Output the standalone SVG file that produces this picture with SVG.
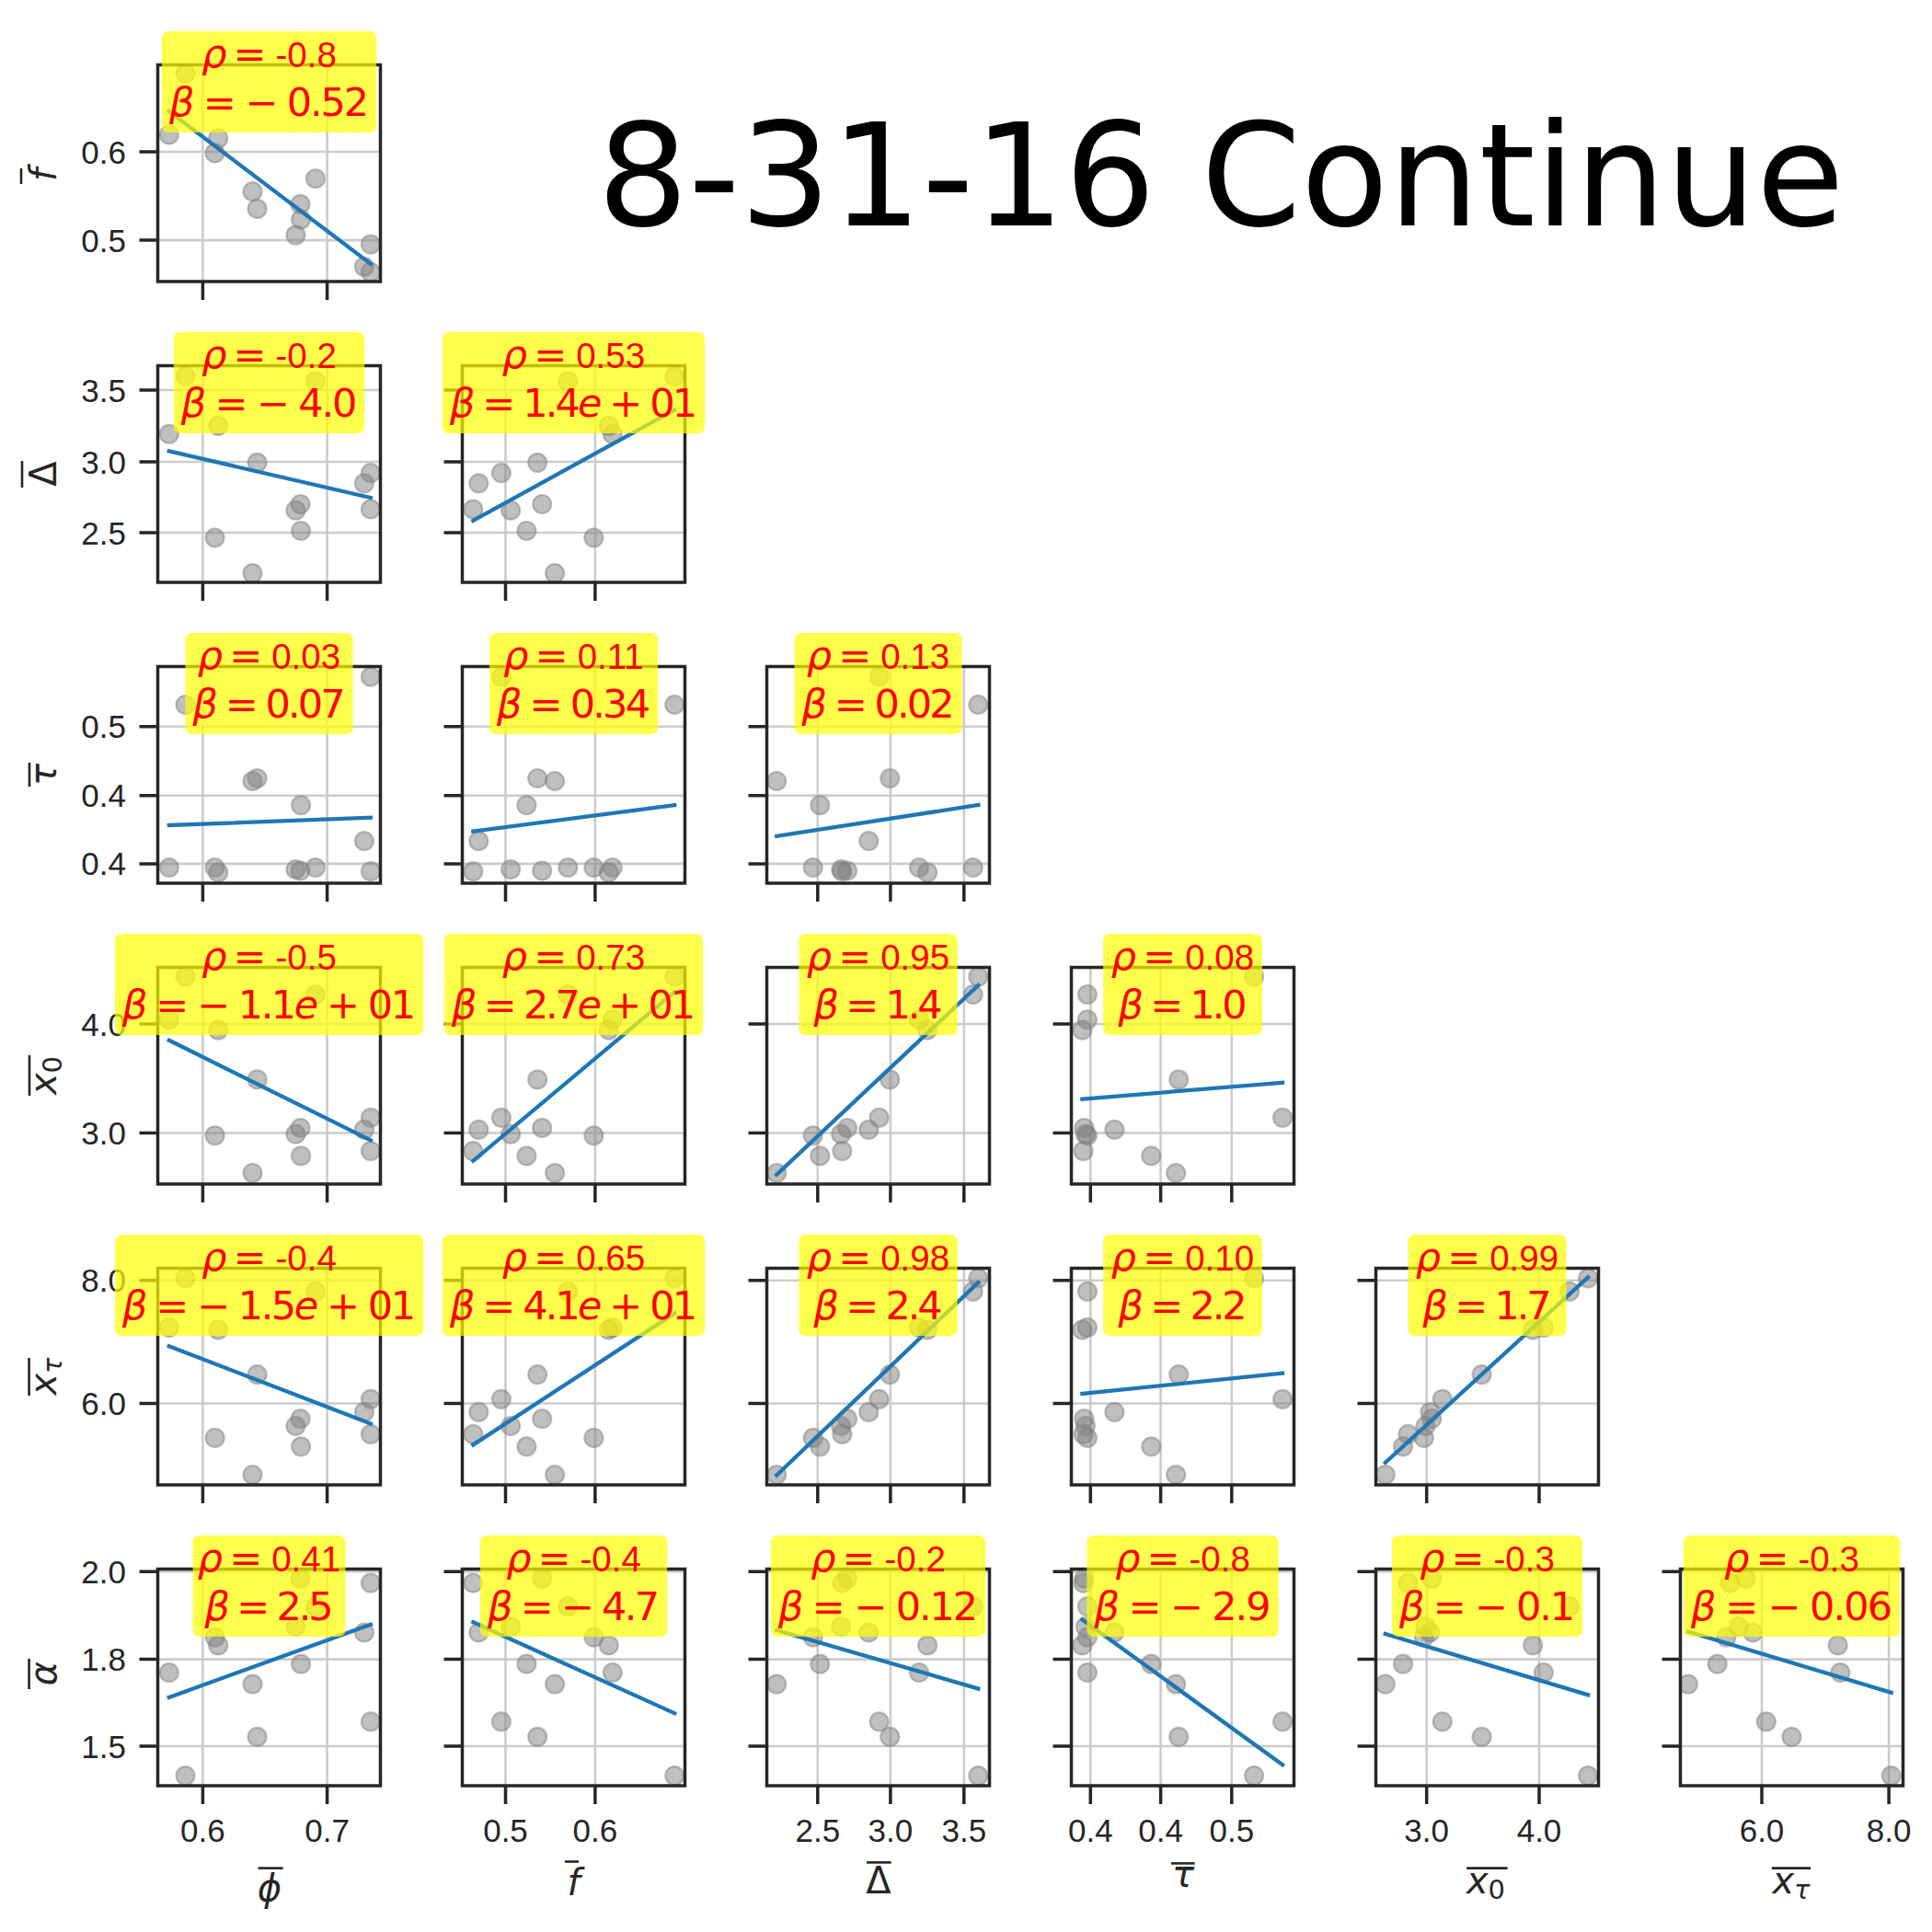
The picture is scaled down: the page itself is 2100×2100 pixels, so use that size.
<svg xmlns="http://www.w3.org/2000/svg" width="2100" height="2100" viewBox="0 0 2100 2100">
<style>
.grid{stroke:#cccccc;stroke-width:2.6;fill:none}
.pt{fill:#808080;fill-opacity:.5;stroke:#808080;stroke-opacity:.5;stroke-width:2.2}
.fit{stroke:#1f77b4;stroke-width:4.3;stroke-linecap:square}
.spine{fill:none;stroke:#262626;stroke-width:3.5}
.tick{stroke:#262626;stroke-width:3.5;fill:none}
.box{fill:#ffff00;fill-opacity:.7}
.ann{font-family:"DejaVu Sans",sans-serif;font-size:43px;fill:#ff0000;text-anchor:middle}
.num{font-family:"Liberation Sans",Arial,sans-serif;font-size:38.5px}
.it{font-style:italic}
.tl{font-family:"Liberation Sans",Arial,sans-serif;font-size:35px;fill:#262626}
.tly{text-anchor:end}
.tlx{text-anchor:middle}
.lab{font-family:"DejaVu Sans",sans-serif;font-size:40px;fill:#262626;text-anchor:middle}
.bar{stroke:#262626;stroke-width:2.6}
.title{font-family:"DejaVu Sans",sans-serif;font-size:155.5px;fill:#000000;text-anchor:middle}
</style>
<rect x="0" y="0" width="2100" height="2100" fill="#ffffff"/>
<text class="title" x="1327" y="245">8-31-16 Continue</text>

<!-- Row 0 -->
<g id="p00">
<svg x="171.5" y="70.5" width="242" height="235.5" viewBox="171.5 70.5 242 235.5">
<path class="grid" d="M220.4 70.5V306M355.6 70.5V306M171.5 165H413.5M171.5 261.1H413.5"/>
<circle class="pt" r="10" cx="183.8" cy="146.4"/><circle class="pt" r="10" cx="201.5" cy="79.9"/><circle class="pt" r="10" cx="233.6" cy="166.4"/><circle class="pt" r="10" cx="237.2" cy="150.4"/><circle class="pt" r="10" cx="274.5" cy="208.2"/><circle class="pt" r="10" cx="279.6" cy="226.9"/><circle class="pt" r="10" cx="321.4" cy="255.6"/><circle class="pt" r="10" cx="326.5" cy="221.9"/><circle class="pt" r="10" cx="327.1" cy="238.5"/><circle class="pt" r="10" cx="342.9" cy="194.2"/><circle class="pt" r="10" cx="395.9" cy="289.9"/><circle class="pt" r="10" cx="402.9" cy="295.8"/><circle class="pt" r="10" cx="402.9" cy="265.6"/>
<line class="fit" x1="183.8" y1="121" x2="402.9" y2="286.8"/>
</svg>
<rect class="spine" x="171.5" y="70.5" width="242" height="235.5"/>
<path class="tick" d="M151.5 165H171.5M151.5 261.1H171.5M220.4 306V326M355.6 306V326"/>
<text class="tl tly" x="137" y="177.5">0.6</text><text class="tl tly" x="137" y="273.6">0.5</text>
<rect class="box" x="175.9" y="34" width="233.2" height="110" rx="7"/>
<text class="ann" x="292.5" y="73"><tspan class="it">ρ</tspan><tspan dx="7">=</tspan><tspan class="num" dx="10">-0.8</tspan></text>
<text class="ann" x="292.5" y="125.5" textLength="217" lengthAdjust="spacing"><tspan class="it">β</tspan> = − 0.52</text>
</g>

<!-- Row 1 -->
<g id="p10">
<svg x="171.5" y="397.5" width="242" height="235.5" viewBox="171.5 397.5 242 235.5">
<path class="grid" d="M220.4 397.5V633M355.6 397.5V633M171.5 424H413.5M171.5 502H413.5M171.5 579H413.5"/>
<circle class="pt" r="10" cx="183.8" cy="471.8"/><circle class="pt" r="10" cx="201.5" cy="409"/><circle class="pt" r="10" cx="233.6" cy="584.5"/><circle class="pt" r="10" cx="237.2" cy="462.9"/><circle class="pt" r="10" cx="274.5" cy="623.1"/><circle class="pt" r="10" cx="279.6" cy="502.8"/><circle class="pt" r="10" cx="321.4" cy="554.7"/><circle class="pt" r="10" cx="326.5" cy="548"/><circle class="pt" r="10" cx="327.1" cy="577"/><circle class="pt" r="10" cx="342.9" cy="414.4"/><circle class="pt" r="10" cx="395.9" cy="525.3"/><circle class="pt" r="10" cx="402.9" cy="553.5"/><circle class="pt" r="10" cx="402.9" cy="514.2"/>
<line class="fit" x1="183.8" y1="490.4" x2="402.9" y2="541"/>
</svg>
<rect class="spine" x="171.5" y="397.5" width="242" height="235.5"/>
<path class="tick" d="M151.5 424H171.5M151.5 502H171.5M151.5 579H171.5M220.4 633V653M355.6 633V653"/>
<text class="tl tly" x="137" y="436.5">3.5</text><text class="tl tly" x="137" y="514.5">3.0</text><text class="tl tly" x="137" y="591.5">2.5</text>
<rect class="box" x="188.7" y="361" width="207.6" height="110" rx="7"/>
<text class="ann" x="292.5" y="400"><tspan class="it">ρ</tspan><tspan dx="7">=</tspan><tspan class="num" dx="10">-0.2</tspan></text>
<text class="ann" x="292.5" y="452.5" textLength="191.6" lengthAdjust="spacing"><tspan class="it">β</tspan> = − 4.0</text>
</g>

<g id="p11">
<svg x="502.5" y="397.5" width="242" height="235.5" viewBox="502.5 397.5 242 235.5">
<path class="grid" d="M549.5 397.5V633M646.9 397.5V633M502.5 424H744.5M502.5 502H744.5M502.5 579H744.5"/>
<circle class="pt" r="10" cx="665.8" cy="471.8"/><circle class="pt" r="10" cx="733.2" cy="409"/><circle class="pt" r="10" cx="645.4" cy="584.5"/><circle class="pt" r="10" cx="661.7" cy="462.9"/><circle class="pt" r="10" cx="603.1" cy="623.1"/><circle class="pt" r="10" cx="584.2" cy="502.8"/><circle class="pt" r="10" cx="555.1" cy="554.7"/><circle class="pt" r="10" cx="589.2" cy="548"/><circle class="pt" r="10" cx="572.4" cy="577"/><circle class="pt" r="10" cx="617.3" cy="414.4"/><circle class="pt" r="10" cx="520.3" cy="525.3"/><circle class="pt" r="10" cx="514.3" cy="553.5"/><circle class="pt" r="10" cx="544.9" cy="514.2"/>
<line class="fit" x1="514.3" y1="565.8" x2="733.2" y2="445.6"/>
</svg>
<rect class="spine" x="502.5" y="397.5" width="242" height="235.5"/>
<path class="tick" d="M482.5 424H502.5M482.5 502H502.5M482.5 579H502.5M549.5 633V653M646.9 633V653"/>
<rect class="box" x="480.9" y="361" width="285.2" height="110" rx="7"/>
<text class="ann" x="623.5" y="400"><tspan class="it">ρ</tspan><tspan dx="7">=</tspan><tspan class="num" dx="10">0.53</tspan></text>
<text class="ann" x="623.5" y="452.5" textLength="269" lengthAdjust="spacing"><tspan class="it">β</tspan> = 1.4<tspan class="it">e</tspan> + 01</text>
</g>

<!-- Row 2 -->
<g id="p20">
<svg x="171.5" y="724.5" width="242" height="235.5" viewBox="171.5 724.5 242 235.5">
<path class="grid" d="M220.4 724.5V960M355.6 724.5V960M171.5 789.7H413.5M171.5 864.7H413.5M171.5 938.9H413.5"/>
<circle class="pt" r="10" cx="183.8" cy="943"/><circle class="pt" r="10" cx="201.5" cy="766"/><circle class="pt" r="10" cx="233.6" cy="943"/><circle class="pt" r="10" cx="237.2" cy="948.4"/><circle class="pt" r="10" cx="274.5" cy="849"/><circle class="pt" r="10" cx="279.6" cy="846"/><circle class="pt" r="10" cx="321.4" cy="945"/><circle class="pt" r="10" cx="326.5" cy="946.5"/><circle class="pt" r="10" cx="327.1" cy="875.2"/><circle class="pt" r="10" cx="342.9" cy="943"/><circle class="pt" r="10" cx="395.9" cy="914.2"/><circle class="pt" r="10" cx="402.9" cy="947.2"/><circle class="pt" r="10" cx="402.9" cy="735.7"/>
<line class="fit" x1="183.8" y1="897" x2="402.9" y2="888.8"/>
</svg>
<rect class="spine" x="171.5" y="724.5" width="242" height="235.5"/>
<path class="tick" d="M151.5 789.7H171.5M151.5 864.7H171.5M151.5 938.9H171.5M220.4 960V980M355.6 960V980"/>
<text class="tl tly" x="137" y="802.2">0.5</text><text class="tl tly" x="137" y="877.2">0.4</text><text class="tl tly" x="137" y="951.4">0.4</text>
<rect class="box" x="201.4" y="688" width="182.2" height="110" rx="7"/>
<text class="ann" x="292.5" y="727"><tspan class="it">ρ</tspan><tspan dx="7">=</tspan><tspan class="num" dx="10">0.03</tspan></text>
<text class="ann" x="292.5" y="779.5" textLength="166" lengthAdjust="spacing"><tspan class="it">β</tspan> = 0.07</text>
</g>

<g id="p21">
<svg x="502.5" y="724.5" width="242" height="235.5" viewBox="502.5 724.5 242 235.5">
<path class="grid" d="M549.5 724.5V960M646.9 724.5V960M502.5 789.7H744.5M502.5 864.7H744.5M502.5 938.9H744.5"/>
<circle class="pt" r="10" cx="665.8" cy="943"/><circle class="pt" r="10" cx="733.2" cy="766"/><circle class="pt" r="10" cx="645.4" cy="943"/><circle class="pt" r="10" cx="661.7" cy="948.4"/><circle class="pt" r="10" cx="603.1" cy="849"/><circle class="pt" r="10" cx="584.2" cy="846"/><circle class="pt" r="10" cx="555.1" cy="945"/><circle class="pt" r="10" cx="589.2" cy="946.5"/><circle class="pt" r="10" cx="572.4" cy="875.2"/><circle class="pt" r="10" cx="617.3" cy="943"/><circle class="pt" r="10" cx="520.3" cy="914.2"/><circle class="pt" r="10" cx="514.3" cy="947.2"/><circle class="pt" r="10" cx="544.9" cy="735.7"/>
<line class="fit" x1="514.3" y1="903.7" x2="733.2" y2="875.1"/>
</svg>
<rect class="spine" x="502.5" y="724.5" width="242" height="235.5"/>
<path class="tick" d="M482.5 789.7H502.5M482.5 864.7H502.5M482.5 938.9H502.5M549.5 960V980M646.9 960V980"/>
<rect class="box" x="531.9" y="688" width="183.2" height="110" rx="7"/>
<text class="ann" x="623.5" y="727"><tspan class="it">ρ</tspan><tspan dx="7">=</tspan><tspan class="num" dx="10">0.11</tspan></text>
<text class="ann" x="623.5" y="779.5" textLength="167" lengthAdjust="spacing"><tspan class="it">β</tspan> = 0.34</text>
</g>

<g id="p22">
<svg x="833.5" y="724.5" width="242" height="235.5" viewBox="833.5 724.5 242 235.5">
<path class="grid" d="M888.8 724.5V960M967.9 724.5V960M1047.8 724.5V960M833.5 789.7H1075.5M833.5 864.7H1075.5M833.5 938.9H1075.5"/>
<circle class="pt" r="10" cx="999" cy="943"/><circle class="pt" r="10" cx="1063.3" cy="766"/><circle class="pt" r="10" cx="883.7" cy="943"/><circle class="pt" r="10" cx="1008.1" cy="948.4"/><circle class="pt" r="10" cx="844.2" cy="849"/><circle class="pt" r="10" cx="967.3" cy="846"/><circle class="pt" r="10" cx="914.2" cy="945"/><circle class="pt" r="10" cx="921" cy="946.5"/><circle class="pt" r="10" cx="891.3" cy="875.2"/><circle class="pt" r="10" cx="1057.7" cy="943"/><circle class="pt" r="10" cx="944.3" cy="914.2"/><circle class="pt" r="10" cx="915.4" cy="947.2"/><circle class="pt" r="10" cx="955.6" cy="735.7"/>
<line class="fit" x1="844.2" y1="908.9" x2="1063.3" y2="875"/>
</svg>
<rect class="spine" x="833.5" y="724.5" width="242" height="235.5"/>
<path class="tick" d="M813.5 789.7H833.5M813.5 864.7H833.5M813.5 938.9H833.5M888.8 960V980M967.9 960V980M1047.8 960V980"/>
<rect class="box" x="863.5" y="688" width="182" height="110" rx="7"/>
<text class="ann" x="954.5" y="727"><tspan class="it">ρ</tspan><tspan dx="7">=</tspan><tspan class="num" dx="10">0.13</tspan></text>
<text class="ann" x="954.5" y="779.5" textLength="166" lengthAdjust="spacing"><tspan class="it">β</tspan> = 0.02</text>
</g>

<!-- Row 3 -->
<g id="p30">
<svg x="171.5" y="1051.5" width="242" height="235.5" viewBox="171.5 1051.5 242 235.5">
<path class="grid" d="M220.4 1051.5V1287M355.6 1051.5V1287M171.5 1113H413.5M171.5 1231.5H413.5"/>
<circle class="pt" r="10" cx="183.8" cy="1108.3"/><circle class="pt" r="10" cx="201.5" cy="1061.6"/><circle class="pt" r="10" cx="233.6" cy="1234.3"/><circle class="pt" r="10" cx="237.2" cy="1119.6"/><circle class="pt" r="10" cx="274.5" cy="1275"/><circle class="pt" r="10" cx="279.6" cy="1173.4"/><circle class="pt" r="10" cx="321.4" cy="1232.7"/><circle class="pt" r="10" cx="326.5" cy="1226"/><circle class="pt" r="10" cx="327.1" cy="1256.4"/><circle class="pt" r="10" cx="342.9" cy="1081"/><circle class="pt" r="10" cx="395.9" cy="1227.9"/><circle class="pt" r="10" cx="402.9" cy="1251.1"/><circle class="pt" r="10" cx="402.9" cy="1214.9"/>
<line class="fit" x1="183.8" y1="1130.8" x2="402.9" y2="1239.4"/>
</svg>
<rect class="spine" x="171.5" y="1051.5" width="242" height="235.5"/>
<path class="tick" d="M151.5 1113H171.5M151.5 1231.5H171.5M220.4 1287V1307M355.6 1287V1307"/>
<text class="tl tly" x="137" y="1125.5">4.0</text><text class="tl tly" x="137" y="1244">3.0</text>
<rect class="box" x="124.9" y="1015" width="335.2" height="110" rx="7"/>
<text class="ann" x="292.5" y="1054"><tspan class="it">ρ</tspan><tspan dx="7">=</tspan><tspan class="num" dx="10">-0.5</tspan></text>
<text class="ann" x="292.5" y="1106.5" textLength="319" lengthAdjust="spacing"><tspan class="it">β</tspan> = − 1.1<tspan class="it">e</tspan> + 01</text>
</g>

<g id="p31">
<svg x="502.5" y="1051.5" width="242" height="235.5" viewBox="502.5 1051.5 242 235.5">
<path class="grid" d="M549.5 1051.5V1287M646.9 1051.5V1287M502.5 1113H744.5M502.5 1231.5H744.5"/>
<circle class="pt" r="10" cx="665.8" cy="1108.3"/><circle class="pt" r="10" cx="733.2" cy="1061.6"/><circle class="pt" r="10" cx="645.4" cy="1234.3"/><circle class="pt" r="10" cx="661.7" cy="1119.6"/><circle class="pt" r="10" cx="603.1" cy="1275"/><circle class="pt" r="10" cx="584.2" cy="1173.4"/><circle class="pt" r="10" cx="555.1" cy="1232.7"/><circle class="pt" r="10" cx="589.2" cy="1226"/><circle class="pt" r="10" cx="572.4" cy="1256.4"/><circle class="pt" r="10" cx="617.3" cy="1081"/><circle class="pt" r="10" cx="520.3" cy="1227.9"/><circle class="pt" r="10" cx="514.3" cy="1251.1"/><circle class="pt" r="10" cx="544.9" cy="1214.9"/>
<line class="fit" x1="514.3" y1="1261.8" x2="733.2" y2="1078.2"/>
</svg>
<rect class="spine" x="502.5" y="1051.5" width="242" height="235.5"/>
<path class="tick" d="M482.5 1113H502.5M482.5 1231.5H502.5M549.5 1287V1307M646.9 1287V1307"/>
<rect class="box" x="482.9" y="1015" width="281.2" height="110" rx="7"/>
<text class="ann" x="623.5" y="1054"><tspan class="it">ρ</tspan><tspan dx="7">=</tspan><tspan class="num" dx="10">0.73</tspan></text>
<text class="ann" x="623.5" y="1106.5" textLength="265" lengthAdjust="spacing"><tspan class="it">β</tspan> = 2.7<tspan class="it">e</tspan> + 01</text>
</g>

<g id="p32">
<svg x="833.5" y="1051.5" width="242" height="235.5" viewBox="833.5 1051.5 242 235.5">
<path class="grid" d="M888.8 1051.5V1287M967.9 1051.5V1287M1047.8 1051.5V1287M833.5 1113H1075.5M833.5 1231.5H1075.5"/>
<circle class="pt" r="10" cx="999" cy="1108.3"/><circle class="pt" r="10" cx="1063.3" cy="1061.6"/><circle class="pt" r="10" cx="883.7" cy="1234.3"/><circle class="pt" r="10" cx="1008.1" cy="1119.6"/><circle class="pt" r="10" cx="844.2" cy="1275"/><circle class="pt" r="10" cx="967.3" cy="1173.4"/><circle class="pt" r="10" cx="914.2" cy="1232.7"/><circle class="pt" r="10" cx="921" cy="1226"/><circle class="pt" r="10" cx="891.3" cy="1256.4"/><circle class="pt" r="10" cx="1057.7" cy="1081"/><circle class="pt" r="10" cx="944.3" cy="1227.9"/><circle class="pt" r="10" cx="915.4" cy="1251.1"/><circle class="pt" r="10" cx="955.6" cy="1214.9"/>
<line class="fit" x1="844.2" y1="1276.8" x2="1063.3" y2="1071"/>
</svg>
<rect class="spine" x="833.5" y="1051.5" width="242" height="235.5"/>
<path class="tick" d="M813.5 1113H833.5M813.5 1231.5H833.5M888.8 1287V1307M967.9 1287V1307M1047.8 1287V1307"/>
<rect class="box" x="868.3" y="1015" width="172.4" height="110" rx="7"/>
<text class="ann" x="954.5" y="1054"><tspan class="it">ρ</tspan><tspan dx="7">=</tspan><tspan class="num" dx="10">0.95</tspan></text>
<text class="ann" x="954.5" y="1106.5" textLength="140" lengthAdjust="spacing"><tspan class="it">β</tspan> = 1.4</text>
</g>

<g id="p33">
<svg x="1164.5" y="1051.5" width="242" height="235.5" viewBox="1164.5 1051.5 242 235.5">
<path class="grid" d="M1185.3 1051.5V1287M1261.6 1051.5V1287M1338.8 1051.5V1287M1164.5 1113H1406.5M1164.5 1231.5H1406.5"/>
<circle class="pt" r="10" cx="1181.9" cy="1108.3"/><circle class="pt" r="10" cx="1363.1" cy="1061.6"/><circle class="pt" r="10" cx="1181.9" cy="1234.3"/><circle class="pt" r="10" cx="1176.4" cy="1119.6"/><circle class="pt" r="10" cx="1278.2" cy="1275"/><circle class="pt" r="10" cx="1281.2" cy="1173.4"/><circle class="pt" r="10" cx="1179.9" cy="1232.7"/><circle class="pt" r="10" cx="1178.4" cy="1226"/><circle class="pt" r="10" cx="1251.3" cy="1256.4"/><circle class="pt" r="10" cx="1181.9" cy="1081"/><circle class="pt" r="10" cx="1211.4" cy="1227.9"/><circle class="pt" r="10" cx="1177.6" cy="1251.1"/><circle class="pt" r="10" cx="1394.1" cy="1214.9"/>
<line class="fit" x1="1176.4" y1="1194.6" x2="1394.1" y2="1176.8"/>
</svg>
<rect class="spine" x="1164.5" y="1051.5" width="242" height="235.5"/>
<path class="tick" d="M1144.5 1113H1164.5M1144.5 1231.5H1164.5M1185.3 1287V1307M1261.6 1287V1307M1338.8 1287V1307"/>
<rect class="box" x="1199.1" y="1015" width="172.8" height="110" rx="7"/>
<text class="ann" x="1285.5" y="1054"><tspan class="it">ρ</tspan><tspan dx="7">=</tspan><tspan class="num" dx="10">0.08</tspan></text>
<text class="ann" x="1285.5" y="1106.5" textLength="140" lengthAdjust="spacing"><tspan class="it">β</tspan> = 1.0</text>
</g>

<!-- Row 4 -->
<g id="p40">
<svg x="171.5" y="1378.5" width="242" height="235.5" viewBox="171.5 1378.5 242 235.5">
<path class="grid" d="M220.4 1378.5V1614M355.6 1378.5V1614M171.5 1391.8H413.5M171.5 1525.5H413.5"/>
<circle class="pt" r="10" cx="183.8" cy="1442.9"/><circle class="pt" r="10" cx="201.5" cy="1389.3"/><circle class="pt" r="10" cx="233.6" cy="1562.9"/><circle class="pt" r="10" cx="237.2" cy="1445.4"/><circle class="pt" r="10" cx="274.5" cy="1603"/><circle class="pt" r="10" cx="279.6" cy="1494.1"/><circle class="pt" r="10" cx="321.4" cy="1550"/><circle class="pt" r="10" cx="326.5" cy="1542.2"/><circle class="pt" r="10" cx="327.1" cy="1572.3"/><circle class="pt" r="10" cx="342.9" cy="1403.8"/><circle class="pt" r="10" cx="395.9" cy="1534.9"/><circle class="pt" r="10" cx="402.9" cy="1558.9"/><circle class="pt" r="10" cx="402.9" cy="1520.8"/>
<line class="fit" x1="183.8" y1="1463.3" x2="402.9" y2="1547.4"/>
</svg>
<rect class="spine" x="171.5" y="1378.5" width="242" height="235.5"/>
<path class="tick" d="M151.5 1391.8H171.5M151.5 1525.5H171.5M220.4 1614V1634M355.6 1614V1634"/>
<text class="tl tly" x="137" y="1404.3">8.0</text><text class="tl tly" x="137" y="1538">6.0</text>
<rect class="box" x="124.9" y="1342" width="335.2" height="110" rx="7"/>
<text class="ann" x="292.5" y="1381"><tspan class="it">ρ</tspan><tspan dx="7">=</tspan><tspan class="num" dx="10">-0.4</tspan></text>
<text class="ann" x="292.5" y="1433.5" textLength="319" lengthAdjust="spacing"><tspan class="it">β</tspan> = − 1.5<tspan class="it">e</tspan> + 01</text>
</g>

<g id="p41">
<svg x="502.5" y="1378.5" width="242" height="235.5" viewBox="502.5 1378.5 242 235.5">
<path class="grid" d="M549.5 1378.5V1614M646.9 1378.5V1614M502.5 1391.8H744.5M502.5 1525.5H744.5"/>
<circle class="pt" r="10" cx="665.8" cy="1442.9"/><circle class="pt" r="10" cx="733.2" cy="1389.3"/><circle class="pt" r="10" cx="645.4" cy="1562.9"/><circle class="pt" r="10" cx="661.7" cy="1445.4"/><circle class="pt" r="10" cx="603.1" cy="1603"/><circle class="pt" r="10" cx="584.2" cy="1494.1"/><circle class="pt" r="10" cx="555.1" cy="1550"/><circle class="pt" r="10" cx="589.2" cy="1542.2"/><circle class="pt" r="10" cx="572.4" cy="1572.3"/><circle class="pt" r="10" cx="617.3" cy="1403.8"/><circle class="pt" r="10" cx="520.3" cy="1534.9"/><circle class="pt" r="10" cx="514.3" cy="1558.9"/><circle class="pt" r="10" cx="544.9" cy="1520.8"/>
<line class="fit" x1="514.3" y1="1570.4" x2="733.2" y2="1427.6"/>
</svg>
<rect class="spine" x="502.5" y="1378.5" width="242" height="235.5"/>
<path class="tick" d="M482.5 1391.8H502.5M482.5 1525.5H502.5M549.5 1614V1634M646.9 1614V1634"/>
<rect class="box" x="480.9" y="1342" width="285.2" height="110" rx="7"/>
<text class="ann" x="623.5" y="1381"><tspan class="it">ρ</tspan><tspan dx="7">=</tspan><tspan class="num" dx="10">0.65</tspan></text>
<text class="ann" x="623.5" y="1433.5" textLength="269" lengthAdjust="spacing"><tspan class="it">β</tspan> = 4.1<tspan class="it">e</tspan> + 01</text>
</g>

<g id="p42">
<svg x="833.5" y="1378.5" width="242" height="235.5" viewBox="833.5 1378.5 242 235.5">
<path class="grid" d="M888.8 1378.5V1614M967.9 1378.5V1614M1047.8 1378.5V1614M833.5 1391.8H1075.5M833.5 1525.5H1075.5"/>
<circle class="pt" r="10" cx="999" cy="1442.9"/><circle class="pt" r="10" cx="1063.3" cy="1389.3"/><circle class="pt" r="10" cx="883.7" cy="1562.9"/><circle class="pt" r="10" cx="1008.1" cy="1445.4"/><circle class="pt" r="10" cx="844.2" cy="1603"/><circle class="pt" r="10" cx="967.3" cy="1494.1"/><circle class="pt" r="10" cx="914.2" cy="1550"/><circle class="pt" r="10" cx="921" cy="1542.2"/><circle class="pt" r="10" cx="891.3" cy="1572.3"/><circle class="pt" r="10" cx="1057.7" cy="1403.8"/><circle class="pt" r="10" cx="944.3" cy="1534.9"/><circle class="pt" r="10" cx="915.4" cy="1558.9"/><circle class="pt" r="10" cx="955.6" cy="1520.8"/>
<line class="fit" x1="844.2" y1="1603.5" x2="1063.3" y2="1394"/>
</svg>
<rect class="spine" x="833.5" y="1378.5" width="242" height="235.5"/>
<path class="tick" d="M813.5 1391.8H833.5M813.5 1525.5H833.5M888.8 1614V1634M967.9 1614V1634M1047.8 1614V1634"/>
<rect class="box" x="868.3" y="1342" width="172.4" height="110" rx="7"/>
<text class="ann" x="954.5" y="1381"><tspan class="it">ρ</tspan><tspan dx="7">=</tspan><tspan class="num" dx="10">0.98</tspan></text>
<text class="ann" x="954.5" y="1433.5" textLength="140" lengthAdjust="spacing"><tspan class="it">β</tspan> = 2.4</text>
</g>

<g id="p43">
<svg x="1164.5" y="1378.5" width="242" height="235.5" viewBox="1164.5 1378.5 242 235.5">
<path class="grid" d="M1185.3 1378.5V1614M1261.6 1378.5V1614M1338.8 1378.5V1614M1164.5 1391.8H1406.5M1164.5 1525.5H1406.5"/>
<circle class="pt" r="10" cx="1181.9" cy="1442.9"/><circle class="pt" r="10" cx="1363.1" cy="1389.3"/><circle class="pt" r="10" cx="1181.9" cy="1562.9"/><circle class="pt" r="10" cx="1176.4" cy="1445.4"/><circle class="pt" r="10" cx="1278.2" cy="1603"/><circle class="pt" r="10" cx="1281.2" cy="1494.1"/><circle class="pt" r="10" cx="1179.9" cy="1550"/><circle class="pt" r="10" cx="1178.4" cy="1542.2"/><circle class="pt" r="10" cx="1251.3" cy="1572.3"/><circle class="pt" r="10" cx="1181.9" cy="1403.8"/><circle class="pt" r="10" cx="1211.4" cy="1534.9"/><circle class="pt" r="10" cx="1177.6" cy="1558.9"/><circle class="pt" r="10" cx="1394.1" cy="1520.8"/>
<line class="fit" x1="1176.4" y1="1515" x2="1394.1" y2="1492.5"/>
</svg>
<rect class="spine" x="1164.5" y="1378.5" width="242" height="235.5"/>
<path class="tick" d="M1144.5 1391.8H1164.5M1144.5 1525.5H1164.5M1185.3 1614V1634M1261.6 1614V1634M1338.8 1614V1634"/>
<rect class="box" x="1199.1" y="1342" width="172.8" height="110" rx="7"/>
<text class="ann" x="1285.5" y="1381"><tspan class="it">ρ</tspan><tspan dx="7">=</tspan><tspan class="num" dx="10">0.10</tspan></text>
<text class="ann" x="1285.5" y="1433.5" textLength="140" lengthAdjust="spacing"><tspan class="it">β</tspan> = 2.2</text>
</g>

<g id="p44">
<svg x="1495.5" y="1378.5" width="242" height="235.5" viewBox="1495.5 1378.5 242 235.5">
<path class="grid" d="M1550.7 1378.5V1614M1673 1378.5V1614M1495.5 1391.8H1737.5M1495.5 1525.5H1737.5"/>
<circle class="pt" r="10" cx="1677.9" cy="1442.9"/><circle class="pt" r="10" cx="1726.1" cy="1389.3"/><circle class="pt" r="10" cx="1547.8" cy="1562.9"/><circle class="pt" r="10" cx="1666.2" cy="1445.4"/><circle class="pt" r="10" cx="1505.8" cy="1603"/><circle class="pt" r="10" cx="1610.6" cy="1494.1"/><circle class="pt" r="10" cx="1549.5" cy="1550"/><circle class="pt" r="10" cx="1556.3" cy="1542.2"/><circle class="pt" r="10" cx="1525" cy="1572.3"/><circle class="pt" r="10" cx="1706" cy="1403.8"/><circle class="pt" r="10" cx="1554.4" cy="1534.9"/><circle class="pt" r="10" cx="1530.5" cy="1558.9"/><circle class="pt" r="10" cx="1567.8" cy="1520.8"/>
<line class="fit" x1="1505.8" y1="1589.8" x2="1726.1" y2="1388.3"/>
</svg>
<rect class="spine" x="1495.5" y="1378.5" width="242" height="235.5"/>
<path class="tick" d="M1475.5 1391.8H1495.5M1475.5 1525.5H1495.5M1550.7 1614V1634M1673 1614V1634"/>
<rect class="box" x="1530.5" y="1342" width="172" height="110" rx="7"/>
<text class="ann" x="1616.5" y="1381"><tspan class="it">ρ</tspan><tspan dx="7">=</tspan><tspan class="num" dx="10">0.99</tspan></text>
<text class="ann" x="1616.5" y="1433.5" textLength="140" lengthAdjust="spacing"><tspan class="it">β</tspan> = 1.7</text>
</g>

<!-- Row 5 -->
<g id="p50">
<svg x="171.5" y="1705.5" width="242" height="235.5" viewBox="171.5 1705.5 242 235.5">
<path class="grid" d="M220.4 1705.5V1941M355.6 1705.5V1941M171.5 1708.2H413.5M171.5 1803.6H413.5M171.5 1898H413.5"/>
<circle class="pt" r="10" cx="183.8" cy="1818"/><circle class="pt" r="10" cx="201.5" cy="1930.1"/><circle class="pt" r="10" cx="233.6" cy="1779.6"/><circle class="pt" r="10" cx="237.2" cy="1788.4"/><circle class="pt" r="10" cx="274.5" cy="1830.6"/><circle class="pt" r="10" cx="279.6" cy="1887.9"/><circle class="pt" r="10" cx="321.4" cy="1768.2"/><circle class="pt" r="10" cx="326.5" cy="1715.8"/><circle class="pt" r="10" cx="327.1" cy="1808.7"/><circle class="pt" r="10" cx="342.9" cy="1746.2"/><circle class="pt" r="10" cx="395.9" cy="1774.5"/><circle class="pt" r="10" cx="402.9" cy="1720.7"/><circle class="pt" r="10" cx="402.9" cy="1871.4"/>
<line class="fit" x1="183.8" y1="1844.9" x2="402.9" y2="1765.8"/>
</svg>
<rect class="spine" x="171.5" y="1705.5" width="242" height="235.5"/>
<path class="tick" d="M151.5 1708.2H171.5M151.5 1803.6H171.5M151.5 1898H171.5M220.4 1941V1961M355.6 1941V1961"/>
<text class="tl tly" x="137" y="1720.7">2.0</text><text class="tl tly" x="137" y="1816.1">1.8</text><text class="tl tly" x="137" y="1910.5">1.5</text>
<text class="tl tlx" x="220.4" y="2001.5">0.6</text><text class="tl tlx" x="355.6" y="2001.5">0.7</text>
<rect class="box" x="209.6" y="1669" width="165.8" height="110" rx="7"/>
<text class="ann" x="292.5" y="1708"><tspan class="it">ρ</tspan><tspan dx="7">=</tspan><tspan class="num" dx="10">0.41</tspan></text>
<text class="ann" x="292.5" y="1760.5" textLength="140" lengthAdjust="spacing"><tspan class="it">β</tspan> = 2.5</text>
</g>

<g id="p51">
<svg x="502.5" y="1705.5" width="242" height="235.5" viewBox="502.5 1705.5 242 235.5">
<path class="grid" d="M549.5 1705.5V1941M646.9 1705.5V1941M502.5 1708.2H744.5M502.5 1803.6H744.5M502.5 1898H744.5"/>
<circle class="pt" r="10" cx="665.8" cy="1818"/><circle class="pt" r="10" cx="733.2" cy="1930.1"/><circle class="pt" r="10" cx="645.4" cy="1779.6"/><circle class="pt" r="10" cx="661.7" cy="1788.4"/><circle class="pt" r="10" cx="603.1" cy="1830.6"/><circle class="pt" r="10" cx="584.2" cy="1887.9"/><circle class="pt" r="10" cx="555.1" cy="1768.2"/><circle class="pt" r="10" cx="589.2" cy="1715.8"/><circle class="pt" r="10" cx="572.4" cy="1808.7"/><circle class="pt" r="10" cx="617.3" cy="1746.2"/><circle class="pt" r="10" cx="520.3" cy="1774.5"/><circle class="pt" r="10" cx="514.3" cy="1720.7"/><circle class="pt" r="10" cx="544.9" cy="1871.4"/>
<line class="fit" x1="514.3" y1="1763.3" x2="733.2" y2="1862.2"/>
</svg>
<rect class="spine" x="502.5" y="1705.5" width="242" height="235.5"/>
<path class="tick" d="M482.5 1708.2H502.5M482.5 1803.6H502.5M482.5 1898H502.5M549.5 1941V1961M646.9 1941V1961"/>
<text class="tl tlx" x="549.5" y="2001.5">0.5</text><text class="tl tlx" x="646.9" y="2001.5">0.6</text>
<rect class="box" x="521.9" y="1669" width="203.2" height="110" rx="7"/>
<text class="ann" x="623.5" y="1708"><tspan class="it">ρ</tspan><tspan dx="7">=</tspan><tspan class="num" dx="10">-0.4</tspan></text>
<text class="ann" x="623.5" y="1760.5" textLength="187" lengthAdjust="spacing"><tspan class="it">β</tspan> = − 4.7</text>
</g>

<g id="p52">
<svg x="833.5" y="1705.5" width="242" height="235.5" viewBox="833.5 1705.5 242 235.5">
<path class="grid" d="M888.8 1705.5V1941M967.9 1705.5V1941M1047.8 1705.5V1941M833.5 1708.2H1075.5M833.5 1803.6H1075.5M833.5 1898H1075.5"/>
<circle class="pt" r="10" cx="999" cy="1818"/><circle class="pt" r="10" cx="1063.3" cy="1930.1"/><circle class="pt" r="10" cx="883.7" cy="1779.6"/><circle class="pt" r="10" cx="1008.1" cy="1788.4"/><circle class="pt" r="10" cx="844.2" cy="1830.6"/><circle class="pt" r="10" cx="967.3" cy="1887.9"/><circle class="pt" r="10" cx="914.2" cy="1768.2"/><circle class="pt" r="10" cx="921" cy="1715.8"/><circle class="pt" r="10" cx="891.3" cy="1808.7"/><circle class="pt" r="10" cx="1057.7" cy="1746.2"/><circle class="pt" r="10" cx="944.3" cy="1774.5"/><circle class="pt" r="10" cx="915.4" cy="1720.7"/><circle class="pt" r="10" cx="955.6" cy="1871.4"/>
<line class="fit" x1="844.2" y1="1771.9" x2="1063.3" y2="1835.5"/>
</svg>
<rect class="spine" x="833.5" y="1705.5" width="242" height="235.5"/>
<path class="tick" d="M813.5 1708.2H833.5M813.5 1803.6H833.5M813.5 1898H833.5M888.8 1941V1961M967.9 1941V1961M1047.8 1941V1961"/>
<text class="tl tlx" x="888.8" y="2001.5">2.5</text><text class="tl tlx" x="967.9" y="2001.5">3.0</text><text class="tl tlx" x="1047.8" y="2001.5">3.5</text>
<rect class="box" x="837.9" y="1669" width="233.2" height="110" rx="7"/>
<text class="ann" x="954.5" y="1708"><tspan class="it">ρ</tspan><tspan dx="7">=</tspan><tspan class="num" dx="10">-0.2</tspan></text>
<text class="ann" x="954.5" y="1760.5" textLength="217" lengthAdjust="spacing"><tspan class="it">β</tspan> = − 0.12</text>
</g>

<g id="p53">
<svg x="1164.5" y="1705.5" width="242" height="235.5" viewBox="1164.5 1705.5 242 235.5">
<path class="grid" d="M1185.3 1705.5V1941M1261.6 1705.5V1941M1338.8 1705.5V1941M1164.5 1708.2H1406.5M1164.5 1803.6H1406.5M1164.5 1898H1406.5"/>
<circle class="pt" r="10" cx="1181.9" cy="1818"/><circle class="pt" r="10" cx="1363.1" cy="1930.1"/><circle class="pt" r="10" cx="1181.9" cy="1779.6"/><circle class="pt" r="10" cx="1176.4" cy="1788.4"/><circle class="pt" r="10" cx="1278.2" cy="1830.6"/><circle class="pt" r="10" cx="1281.2" cy="1887.9"/><circle class="pt" r="10" cx="1179.9" cy="1768.2"/><circle class="pt" r="10" cx="1178.4" cy="1715.8"/><circle class="pt" r="10" cx="1251.3" cy="1808.7"/><circle class="pt" r="10" cx="1181.9" cy="1746.2"/><circle class="pt" r="10" cx="1211.4" cy="1774.5"/><circle class="pt" r="10" cx="1177.6" cy="1720.7"/><circle class="pt" r="10" cx="1394.1" cy="1871.4"/>
<line class="fit" x1="1176.4" y1="1760.4" x2="1394.1" y2="1918.2"/>
</svg>
<rect class="spine" x="1164.5" y="1705.5" width="242" height="235.5"/>
<path class="tick" d="M1144.5 1708.2H1164.5M1144.5 1803.6H1164.5M1144.5 1898H1164.5M1185.3 1941V1961M1261.6 1941V1961M1338.8 1941V1961"/>
<text class="tl tlx" x="1185.3" y="2001.5">0.4</text><text class="tl tlx" x="1261.6" y="2001.5">0.4</text><text class="tl tlx" x="1338.8" y="2001.5">0.5</text>
<rect class="box" x="1181.3" y="1669" width="208.4" height="110" rx="7"/>
<text class="ann" x="1285.5" y="1708"><tspan class="it">ρ</tspan><tspan dx="7">=</tspan><tspan class="num" dx="10">-0.8</tspan></text>
<text class="ann" x="1285.5" y="1760.5" textLength="192" lengthAdjust="spacing"><tspan class="it">β</tspan> = − 2.9</text>
</g>

<g id="p54">
<svg x="1495.5" y="1705.5" width="242" height="235.5" viewBox="1495.5 1705.5 242 235.5">
<path class="grid" d="M1550.7 1705.5V1941M1673 1705.5V1941M1495.5 1708.2H1737.5M1495.5 1803.6H1737.5M1495.5 1898H1737.5"/>
<circle class="pt" r="10" cx="1677.9" cy="1818"/><circle class="pt" r="10" cx="1726.1" cy="1930.1"/><circle class="pt" r="10" cx="1547.8" cy="1779.6"/><circle class="pt" r="10" cx="1666.2" cy="1788.4"/><circle class="pt" r="10" cx="1505.8" cy="1830.6"/><circle class="pt" r="10" cx="1610.6" cy="1887.9"/><circle class="pt" r="10" cx="1549.5" cy="1768.2"/><circle class="pt" r="10" cx="1556.3" cy="1715.8"/><circle class="pt" r="10" cx="1525" cy="1808.7"/><circle class="pt" r="10" cx="1706" cy="1746.2"/><circle class="pt" r="10" cx="1554.4" cy="1774.5"/><circle class="pt" r="10" cx="1530.5" cy="1720.7"/><circle class="pt" r="10" cx="1567.8" cy="1871.4"/>
<line class="fit" x1="1505.8" y1="1776" x2="1726.1" y2="1842.3"/>
</svg>
<rect class="spine" x="1495.5" y="1705.5" width="242" height="235.5"/>
<path class="tick" d="M1475.5 1708.2H1495.5M1475.5 1803.6H1495.5M1475.5 1898H1495.5M1550.7 1941V1961M1673 1941V1961"/>
<text class="tl tlx" x="1550.7" y="2001.5">3.0</text><text class="tl tlx" x="1673" y="2001.5">4.0</text>
<rect class="box" x="1512.9" y="1669" width="207.2" height="110" rx="7"/>
<text class="ann" x="1616.5" y="1708"><tspan class="it">ρ</tspan><tspan dx="7">=</tspan><tspan class="num" dx="10">-0.3</tspan></text>
<text class="ann" x="1616.5" y="1760.5" textLength="191" lengthAdjust="spacing"><tspan class="it">β</tspan> = − 0.1</text>
</g>

<g id="p55">
<svg x="1826.5" y="1705.5" width="242" height="235.5" viewBox="1826.5 1705.5 242 235.5">
<path class="grid" d="M1915 1705.5V1941M2053.1 1705.5V1941M1826.5 1708.2H2068.5M1826.5 1803.6H2068.5M1826.5 1898H2068.5"/>
<circle class="pt" r="10" cx="2000.3" cy="1818"/><circle class="pt" r="10" cx="2055.7" cy="1930.1"/><circle class="pt" r="10" cx="1876.3" cy="1779.6"/><circle class="pt" r="10" cx="1997.7" cy="1788.4"/><circle class="pt" r="10" cx="1834.9" cy="1830.6"/><circle class="pt" r="10" cx="1947.5" cy="1887.9"/><circle class="pt" r="10" cx="1889.7" cy="1768.2"/><circle class="pt" r="10" cx="1897.7" cy="1715.8"/><circle class="pt" r="10" cx="1866.7" cy="1808.7"/><circle class="pt" r="10" cx="2040.7" cy="1746.2"/><circle class="pt" r="10" cx="1905.3" cy="1774.5"/><circle class="pt" r="10" cx="1880.5" cy="1720.7"/><circle class="pt" r="10" cx="1919.8" cy="1871.4"/>
<line class="fit" x1="1834.9" y1="1773.5" x2="2055.7" y2="1839.8"/>
</svg>
<rect class="spine" x="1826.5" y="1705.5" width="242" height="235.5"/>
<path class="tick" d="M1806.5 1708.2H1826.5M1806.5 1803.6H1826.5M1806.5 1898H1826.5M1915 1941V1961M2053.1 1941V1961"/>
<text class="tl tlx" x="1915" y="2001.5">6.0</text><text class="tl tlx" x="2053.1" y="2001.5">8.0</text>
<rect class="box" x="1829.9" y="1669" width="235.2" height="110" rx="7"/>
<text class="ann" x="1947.5" y="1708"><tspan class="it">ρ</tspan><tspan dx="7">=</tspan><tspan class="num" dx="10">-0.3</tspan></text>
<text class="ann" x="1947.5" y="1760.5" textLength="219" lengthAdjust="spacing"><tspan class="it">β</tspan> = − 0.06</text>
</g>

<!-- Axis labels -->
<g id="ylabels">
<g transform="translate(61,190) rotate(-90)"><text class="lab it" x="0" y="0">f</text><line class="bar" x1="-10" y1="-38" x2="7" y2="-38"/></g>
<g transform="translate(61,515) rotate(-90)"><text class="lab" x="0" y="0">Δ</text><line class="bar" x1="-15" y1="-37" x2="14" y2="-37"/></g>
<g transform="translate(61,842) rotate(-90)"><text class="lab it" x="0" y="0">τ</text><line class="bar" x1="-13" y1="-29" x2="13" y2="-29"/></g>
<g transform="translate(61,1169) rotate(-90)"><text class="lab" x="0" y="0"><tspan class="it">x</tspan><tspan font-size="29" dy="6">0</tspan></text><line class="bar" x1="-22" y1="-29" x2="22" y2="-29"/></g>
<g transform="translate(61,1496) rotate(-90)"><text class="lab" x="0" y="0"><tspan class="it">x</tspan><tspan class="it" font-size="29" dy="6">τ</tspan></text><line class="bar" x1="-21" y1="-29.4" x2="20" y2="-29.4"/></g>
<g transform="translate(61,1819) rotate(-90)"><text class="lab it" x="0" y="0">α</text><line class="bar" x1="-17" y1="-29.4" x2="16" y2="-29.4"/></g>
</g>
<g id="xlabels">
<text class="lab it" x="293" y="2066">ϕ</text><line class="bar" x1="280.6" y1="2030.6" x2="307.6" y2="2030.6"/>
<text class="lab it" x="623.5" y="2060">f</text><line class="bar" x1="613.8" y1="2023.5" x2="629" y2="2023.5"/>
<text class="lab" x="955" y="2058">Δ</text><line class="bar" x1="942" y1="2024.4" x2="968.7" y2="2024.4"/>
<text class="lab it" x="1286" y="2051">τ</text><line class="bar" x1="1273" y1="2025.4" x2="1298.6" y2="2025.4"/>
<text class="lab" x="1615" y="2057.7"><tspan class="it">x</tspan><tspan font-size="29" dy="6">0</tspan></text><line class="bar" x1="1594.2" y1="2030.6" x2="1638.6" y2="2030.6"/>
<text class="lab" x="1947" y="2057.7"><tspan class="it">x</tspan><tspan class="it" font-size="29" dy="6">τ</tspan></text><line class="bar" x1="1925.8" y1="2030.6" x2="1968.1" y2="2030.6"/>
</g>
</svg>
